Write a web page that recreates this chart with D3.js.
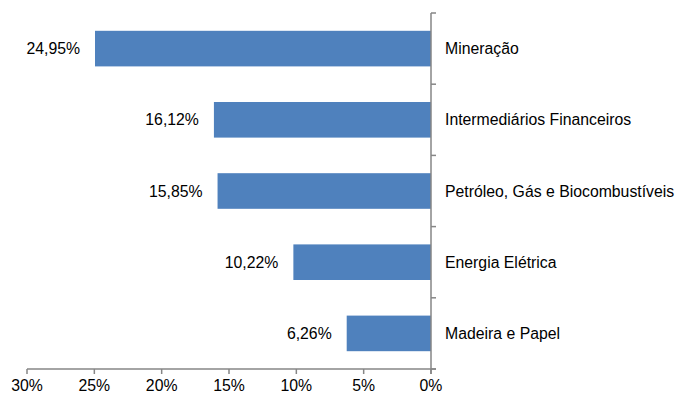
<!DOCTYPE html>
<html><head><meta charset="utf-8">
<script src="https://cdn.jsdelivr.net/npm/d3@7"></script>
<style>body{margin:0;background:#fff}svg{display:block}text{font-family:"Liberation Sans",Arial,sans-serif;font-size:15.8px;fill:#000}</style>
</head><body>
<script>
const categories = ["Mineração","Intermediários Financeiros","Petróleo, Gás e Biocombustíveis","Energia Elétrica","Madeira e Papel"];
const values = [24.95,16.12,15.85,10.22,6.26];
const valueLabels = ["24,95%","16,12%","15,85%","10,22%","6,26%"];
const xTicks = [30,25,20,15,10,5,0];
const xTickLabels = ["30%","25%","20%","15%","10%","5%","0%"];

const W=677,H=394;
const svg=d3.select("body").append("svg").attr("width",W).attr("height",H);
const x=d3.scaleLinear().domain([30,0]).range([27,431]);
const y=d3.scaleBand().domain(categories).range([13,369]).paddingInner(0.5).paddingOuter(0.25);
const axisColor="#868686";

// bars
svg.selectAll("rect.bar").data(categories).join("rect")
  .attr("x",(d,i)=>x(values[i])).attr("y",d=>y(d))
  .attr("width",(d,i)=>x(0)-x(values[i])).attr("height",y.bandwidth())
  .attr("fill","#4F81BD");

// value labels
svg.selectAll("text.val").data(categories).join("text")
  .attr("x",(d,i)=>x(values[i])-15).attr("y",d=>y(d)+y.bandwidth()/2)
  .attr("dy","0.35em").attr("text-anchor","end").text((d,i)=>valueLabels[i]);

// x axis
const gx=svg.append("g");
gx.append("line").attr("x1",x(30)).attr("x2",x(0)+5).attr("y1",369).attr("y2",369).attr("stroke",axisColor).attr("stroke-width",1.5);
gx.selectAll("line.t").data(xTicks).join("line")
  .attr("x1",d=>x(d)).attr("x2",d=>x(d)).attr("y1",369).attr("y2",374).attr("stroke",axisColor).attr("stroke-width",1.5);
gx.selectAll("text").data(xTicks).join("text")
  .attr("x",d=>x(d)).attr("y",391).attr("text-anchor","middle").text((d,i)=>xTickLabels[i]);

// y axis
const gy=svg.append("g");
gy.append("line").attr("x1",x(0)).attr("x2",x(0)).attr("y1",13).attr("y2",374).attr("stroke",axisColor).attr("stroke-width",1.5);
const step=(369-13)/categories.length;
const bounds=d3.range(categories.length+1).map(i=>13+i*step);
gy.selectAll("line.t").data(bounds).join("line")
  .attr("x1",x(0)).attr("x2",x(0)+5).attr("y1",d=>d).attr("y2",d=>d).attr("stroke",axisColor).attr("stroke-width",1.5);
gy.selectAll("text").data(categories).join("text")
  .attr("x",445).attr("y",d=>y(d)+y.bandwidth()/2).attr("dy","0.35em").text(d=>d);
</script>
</body></html>
